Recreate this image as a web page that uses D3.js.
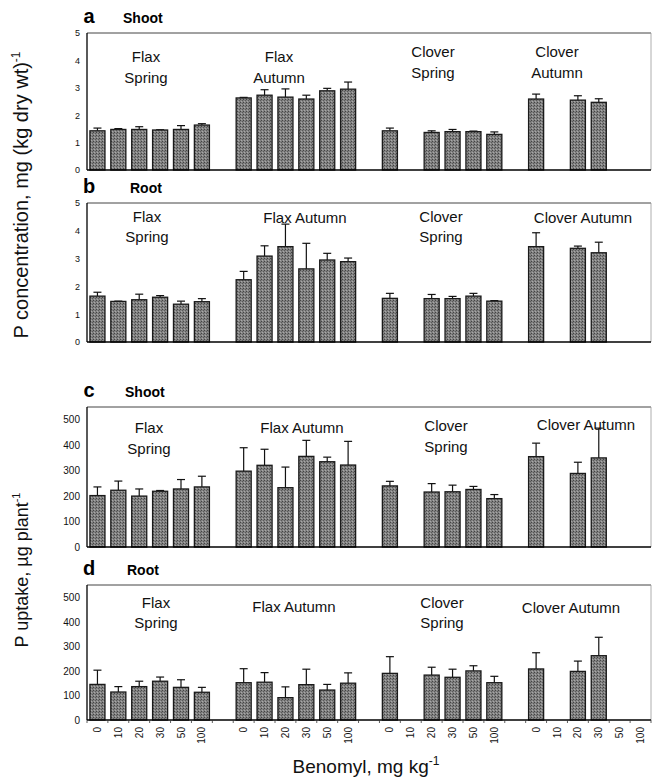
<!DOCTYPE html>
<html><head><meta charset="utf-8">
<script src="https://cdn.jsdelivr.net/npm/d3@7"></script>
<style>body{margin:0;background:#fff;} svg{display:block;font-family:Arial,"Liberation Sans",sans-serif;}</style>
</head><body>
<svg id="chart" width="652" height="780"></svg>
<script>
// ---- data ----
const doses = ["0","10","20","30","50","100"];
const groups = ["Flax Spring","Flax Autumn","Clover Spring","Clover Autumn"];

// (a) shoot P concentration
const concShoot    = [1.43,1.48,1.48,1.46,1.48,1.64, 2.63,2.73,2.66,2.59,2.89,2.95, 1.43,null,1.37,1.40,1.40,1.30, 2.59,null,2.55,2.47,null,null];
const concShootErr = [0.10,0.03,0.10,0.01,0.14,0.05, 0.02,0.20,0.30,0.14,0.09,0.26, 0.10,null,0.06,0.08,0.02,0.09, 0.18,null,0.16,0.13,null,null];
// (b) root P concentration
const concRoot     = [1.65,1.46,1.52,1.61,1.36,1.45, 2.24,3.09,3.43,2.63,2.95,2.89, 1.57,null,1.56,1.56,1.65,1.47, 3.43,null,3.37,3.21,null,null];
const concRootErr  = [0.14,0.01,0.20,0.06,0.11,0.11, 0.30,0.37,0.81,0.92,0.24,0.13, 0.18,null,0.15,0.08,0.10,0.02, 0.50,null,0.08,0.38,null,null];
// (c) shoot P uptake
const upShoot      = [202,223,200,219,228,236, 298,321,233,356,335,322, 240,null,216,217,226,190, 355,null,289,350,null,null];
const upShootErr   = [34,36,28,3,37,42, 92,63,81,63,18,93, 18,null,33,26,12,16, 53,null,44,117,null,null];
// (d) root P uptake
const upRoot       = [145,114,136,158,133,113, 152,154,91,144,122,150, 190,null,183,174,200,152, 208,null,198,262,null,null];
const upRootErr    = [58,22,22,17,31,20, 57,39,44,63,23,42, 68,null,32,33,21,26, 66,null,42,75,null,null];

const concTicks = [0,1,2,3,4,5];
const upTicks = [0,100,200,300,400,500];

// group labels per panel (lines)
const labelsA = [["Flax","Spring"],["Flax","Autumn"],["Clover","Spring"],["Clover","Autumn"]];
const labelsB = [["Flax","Spring"],["Flax Autumn"],["Clover","Spring"],["Clover Autumn"]];
const labelsC = [["Flax","Spring"],["Flax Autumn"],["Clover","Spring"],["Clover Autumn"]];
const labelsD = [["Flax","Spring"],["Flax Autumn"],["Clover","Spring"],["Clover Autumn"]];

// ---- layout ----
const svg = d3.select("#chart");
const left = 87, right = 651;

// slots: 6 doses per group, one empty slot between groups
const slots = [];
groups.forEach((g,gi)=>{
  doses.forEach((d,di)=>slots.push(gi+"-"+di));
  if (gi < groups.length-1) slots.push("gap"+gi);
});
const x = d3.scaleBand().domain(slots).range([left,right]).paddingInner(0.28).paddingOuter(0.14);

// stipple pattern
const defs = svg.append("defs");
const pat = defs.append("pattern").attr("id","stip").attr("width",3).attr("height",3).attr("patternUnits","userSpaceOnUse");
pat.append("rect").attr("width",3).attr("height",3).attr("fill","#828282");
pat.append("rect").attr("x",0).attr("y",0).attr("width",1).attr("height",1).attr("fill","#444");
pat.append("rect").attr("x",2).attr("y",1).attr("width",1).attr("height",1).attr("fill","#5a5a5a");
pat.append("rect").attr("x",1).attr("y",2).attr("width",1).attr("height",1).attr("fill","#a8a8a8");

const panels = [
  {letter:"a", title:"Shoot", vals:concShoot, errs:concShootErr, ticks:concTicks, max:5, y0:170, y1:33, tickFont:9,
   labels:labelsA, labelPos:[[146,62],[279,62],[433,57],[557,57]], lineH:21, xticks:false},
  {letter:"b", title:"Root", vals:concRoot, errs:concRootErr, ticks:concTicks, max:5, y0:342, y1:203, tickFont:9,
   labels:labelsB, labelPos:[[147,222],[305,223],[441,222],[583,223]], lineH:20, xticks:false},
  {letter:"c", title:"Shoot", vals:upShoot, errs:upShootErr, ticks:upTicks, max:550, y0:547, y1:407, tickFont:10,
   labels:labelsC, labelPos:[[149,433],[302,433],[446,431],[586,430]], lineH:21, xticks:false},
  {letter:"d", title:"Root", vals:upRoot, errs:upRootErr, ticks:upTicks, max:550, y0:720, y1:585, tickFont:10,
   labels:labelsD, labelPos:[[156,608],[294,612],[442,608],[571,613]], lineH:20, xticks:true}
];

panels.forEach(p=>{
  const y = d3.scaleLinear().domain([0,p.max]).range([p.y0,p.y1]);
  const g = svg.append("g");
  // frame
  g.append("line").attr("x1",left).attr("x2",right).attr("y1",p.y1).attr("y2",p.y1).attr("stroke","#444").attr("stroke-width",1);
  g.append("line").attr("x1",right).attr("x2",right).attr("y1",p.y1).attr("y2",p.y0).attr("stroke","#999").attr("stroke-width",0.8);
  // y axis
  const ax = g.append("g").attr("transform",`translate(${left},0)`)
    .call(d3.axisLeft(y).tickValues(p.ticks).tickSize(0).tickPadding(7).tickFormat(d3.format("d")));
  ax.select(".domain").remove();
  ax.selectAll("text").attr("font-size",p.tickFont).attr("fill","#111").attr("font-family","Arial, 'Liberation Sans', sans-serif");
  g.append("line").attr("x1",left).attr("x2",left).attr("y1",p.y1).attr("y2",p.y0).attr("stroke","#000").attr("stroke-width",1.3);

  // bars
  const data = [];
  p.vals.forEach((v,i)=>{
    if (v===null) return;
    const gi = Math.floor(i/6), di = i%6;
    data.push({key:gi+"-"+di, v:v, e:p.errs[i]});
  });
  const bw = x.bandwidth();
  // error bars (upward only)
  g.selectAll(".eb").data(data).join("line")
    .attr("x1",d=>x(d.key)+bw/2).attr("x2",d=>x(d.key)+bw/2)
    .attr("y1",d=>y(d.v)).attr("y2",d=>y(d.v+d.e))
    .attr("stroke","#111").attr("stroke-width",1.2);
  g.selectAll(".cap").data(data).join("line")
    .attr("x1",d=>x(d.key)+bw/2-4).attr("x2",d=>x(d.key)+bw/2+4)
    .attr("y1",d=>y(d.v+d.e)).attr("y2",d=>y(d.v+d.e))
    .attr("stroke","#111").attr("stroke-width",1.2);
  g.selectAll(".bar").data(data).join("rect")
    .attr("x",d=>x(d.key)).attr("width",bw)
    .attr("y",d=>y(d.v)).attr("height",d=>y(0)-y(d.v))
    .attr("fill","url(#stip)").attr("stroke","#1a1a1a").attr("stroke-width",1.3);

  // bottom axis
  g.append("line").attr("x1",left).attr("x2",right).attr("y1",p.y0).attr("y2",p.y0).attr("stroke","#000").attr("stroke-width",1.3);
  if (p.xticks){
    const step = x.step();
    const bounds = slots.map(s=>x(s) - (step - bw)/2).concat([right]);
    g.selectAll(".xt").data(bounds).join("line")
      .attr("x1",d=>d).attr("x2",d=>d).attr("y1",p.y0).attr("y2",p.y0+3)
      .attr("stroke","#333").attr("stroke-width",0.8);
    const labs = [];
    groups.forEach((gr,gi)=>doses.forEach((d,di)=>labs.push({key:gi+"-"+di, t:d})));
    g.selectAll(".xl").data(labs).join("text")
      .attr("transform",d=>`translate(${x(d.key)+bw/2+3.5},${p.y0+7}) rotate(-90)`)
      .attr("text-anchor","end").attr("font-size",10).attr("fill","#111").text(d=>d.t);
  }

  // group labels
  p.labels.forEach((lines,i)=>{
    const [cx,cy] = p.labelPos[i];
    lines.forEach((t,li)=>{
      g.append("text").attr("x",cx).attr("y",cy+li*p.lineH).attr("text-anchor","middle")
        .attr("font-size",15).attr("fill","#111").text(t);
    });
  });

  // panel letter and title
  g.append("text").attr("x",89).attr("y",p.y1-10).attr("text-anchor","middle")
    .attr("font-size",20).attr("font-weight","bold").attr("fill","#000").text(p.letter);
  g.append("text").attr("x",p.letter==="a"?123:(p.letter==="b"?130:(p.letter==="c"?125:127))).attr("y",p.y1-10)
    .attr("font-size",14).attr("font-weight","bold").attr("fill","#000").text(p.title);
});

// axis titles
const t1 = svg.append("text").attr("transform","translate(28,195) rotate(-90)").attr("text-anchor","middle")
  .attr("font-size",20).attr("fill","#111");
t1.append("tspan").text("P concentration, mg  (kg dry wt)");
t1.append("tspan").attr("dy",-8).attr("font-size",12).text("-1");

const t2 = svg.append("text").attr("transform","translate(28,570) rotate(-90)").attr("text-anchor","middle")
  .attr("font-size",18).attr("fill","#111");
t2.append("tspan").text("P uptake, µg plant");
t2.append("tspan").attr("dy",-8).attr("font-size",11).text("-1");

const t3 = svg.append("text").attr("x",366).attr("y",773).attr("text-anchor","middle")
  .attr("font-size",19).attr("fill","#111");
t3.append("tspan").text("Benomyl, mg kg");
t3.append("tspan").attr("dy",-8).attr("font-size",12).text("-1");
</script>
</body></html>
